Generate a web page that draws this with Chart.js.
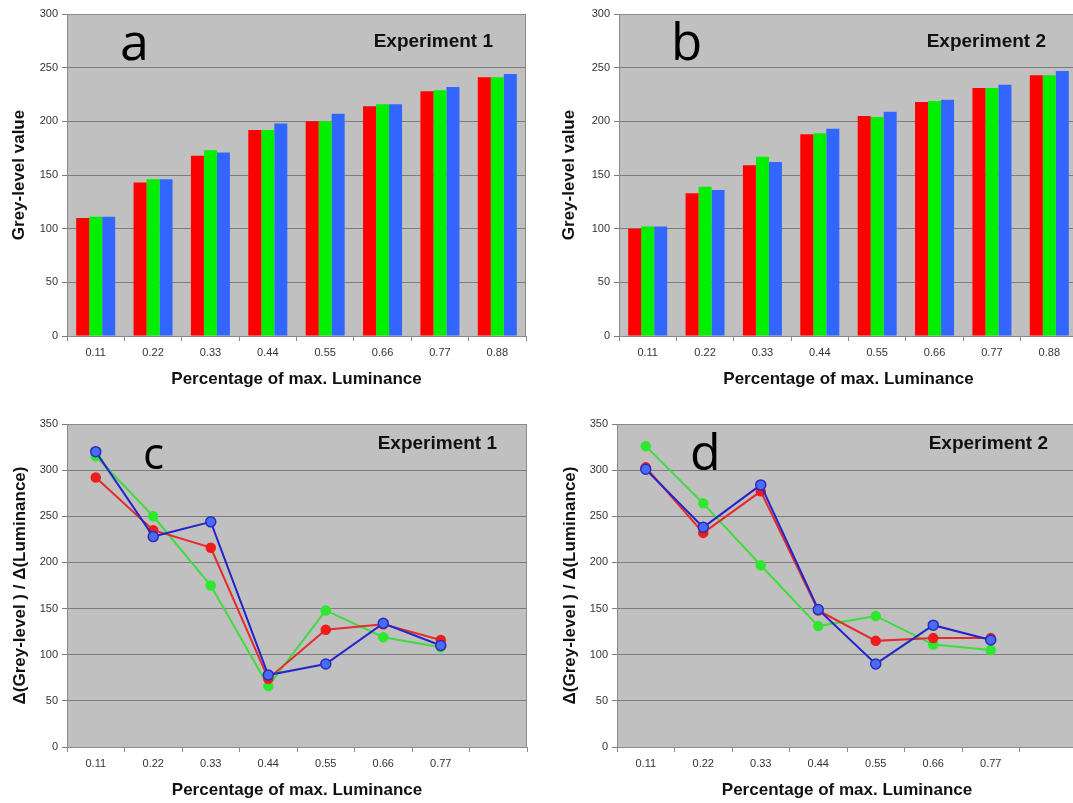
<!DOCTYPE html>
<html>
<head>
<meta charset="utf-8">
<title>Grey-level response</title>
<script src="https://cdn.jsdelivr.net/npm/chart.js@4/dist/chart.umd.min.js"></script>
<style>
  html, body { margin: 0; padding: 0; background: #ffffff; }
  body { width: 1073px; height: 803px; overflow: hidden; position: relative; }
  canvas { position: absolute; }
</style>
</head>
<body>
<canvas id="pa" width="540" height="400" style="left:0px;top:0px"></canvas>
<canvas id="pb" width="540" height="400" style="left:552px;top:0px"></canvas>
<canvas id="pc" width="540" height="403" style="left:0px;top:400px"></canvas>
<canvas id="pd" width="540" height="403" style="left:550px;top:400px"></canvas>
<script>
// Luminance steps (fraction of max. luminance)
const lumLabels = ['0.11', '0.22', '0.33', '0.44', '0.55', '0.66', '0.77', '0.88'];
const slopeLabels = ['0.11', '0.22', '0.33', '0.44', '0.55', '0.66', '0.77', ''];

// Grey-level values per channel, experiment 1
const exp1Red   = [110, 143, 168, 192, 200, 214, 228, 241];
const exp1Green = [111, 146, 173, 192, 200, 216, 229, 241];
const exp1Blue  = [111, 146, 171, 198, 207, 216, 232, 244];

// Grey-level values per channel, experiment 2
const exp2Red   = [100, 133, 159, 188, 205, 218, 231, 243];
const exp2Green = [102, 139, 167, 189, 204, 219, 231, 243];
const exp2Blue  = [102, 136, 162, 193, 209, 220, 234, 247];

// Δ(grey-level) / Δ(luminance), experiment 1
const slope1Red   = [292, 235, 216, 74, 127, 133, 116];
const slope1Green = [315, 250, 175, 66, 148, 119, 108];
const slope1Blue  = [320, 228, 244, 78, 90, 134, 110];

// Δ(grey-level) / Δ(luminance), experiment 2
const slope2Red   = [303, 232, 277, 148, 115, 118, 118];
const slope2Green = [326, 264, 197, 131, 142, 111, 105];
const slope2Blue  = [301, 238, 284, 149, 90, 132, 116];

// Y tick values
const barTicks = [0, 50, 100, 150, 200, 250, 300];
const slopeTicks = [0, 50, 100, 150, 200, 250, 300, 350];

const SANS = "'Liberation Sans', Arial, sans-serif";

// Grey plot background, frame, panel letter and experiment caption
const panelDecor = {
  id: 'panelDecor',
  beforeDraw(chart, args, o) {
    const { ctx, chartArea: a } = chart;
    ctx.save();
    ctx.fillStyle = '#c0c0c0';
    ctx.fillRect(a.left, a.top, a.right - a.left, a.bottom - a.top);
    ctx.restore();
  },
  afterDraw(chart, args, o) {
    const { ctx, chartArea: a } = chart;
    ctx.save();
    ctx.strokeStyle = '#8a8a8a';
    ctx.lineWidth = 1;
    ctx.beginPath();
    ctx.moveTo(a.left, a.top + 0.5);
    ctx.lineTo(a.right - 0.5, a.top + 0.5);
    ctx.lineTo(a.right - 0.5, a.bottom);
    ctx.stroke();
    ctx.fillStyle = '#000000';
    ctx.textBaseline = 'alphabetic';
    ctx.textAlign = 'left';
    ctx.font = o.letterSize + "px 'Open Sans', 'Noto Sans', sans-serif";
    ctx.fillText(o.letter, o.letterX, o.letterY);
    ctx.fillStyle = '#111111';
    ctx.textAlign = 'right';
    ctx.font = 'bold 19px ' + SANS;
    ctx.fillText(o.caption, o.captionX, o.captionY);
    ctx.restore();
  }
};

function yScale(ticks, title, titlePad) {
  return {
    min: ticks[0],
    max: ticks[ticks.length - 1],
    afterBuildTicks: (s) => { s.ticks = ticks.map(v => ({ value: v })); },
    afterFit: (s) => { s.width = 67; },
    grid: { color: '#7c7c7c', lineWidth: 1, tickLength: 5, drawTicks: true },
    border: { display: true, color: '#8a8a8a', width: 1 },
    ticks: { color: '#333333', font: { family: SANS, size: 11 }, padding: 4 },
    title: {
      display: true, text: title, color: '#111111',
      font: { family: SANS, size: 17, weight: 'bold' },
      padding: { top: titlePad, bottom: 0 }
    }
  };
}

function xScale(height, titlePad) {
  return {
    offset: true,
    afterFit: (s) => { s.height = height; },
    grid: { display: true, drawOnChartArea: false, drawTicks: true, tickLength: 5, color: '#8a8a8a', offset: true },
    border: { display: true, color: '#8a8a8a', width: 1 },
    ticks: { color: '#333333', font: { family: SANS, size: 11 }, padding: 5, maxRotation: 0, autoSkip: false },
    title: {
      display: true, text: 'Percentage of max. Luminance', color: '#111111',
      font: { family: SANS, size: 17, weight: 'bold' },
      padding: { top: 0, bottom: titlePad }
    }
  };
}

function barPanel(id, red, green, blue, decor, yPad) {
  const ds = (label, data, color) => ({
    label, data, backgroundColor: color, borderWidth: 0,
    categoryPercentage: 0.68, barPercentage: 1.0
  });
  new Chart(document.getElementById(id), {
    type: 'bar',
    data: {
      labels: lumLabels,
      datasets: [ds('Red', red, '#ff0000'), ds('Green', green, '#00f000'), ds('Blue', blue, '#3366ff')]
    },
    options: {
      responsive: false, animation: false, devicePixelRatio: 1,
      layout: { padding: { left: 0, right: 14, top: 14, bottom: 0 } },
      plugins: { legend: { display: false }, tooltip: { enabled: false }, panelDecor: decor },
      scales: { x: xScale(64, 10), y: yScale(barTicks, 'Grey-level value', yPad) }
    },
    plugins: [panelDecor]
  });
}

function slopePanel(id, red, green, blue, decor, yPad) {
  const ds = (label, data, line, fill, edge, radius, order) => ({
    label, data, borderColor: line, backgroundColor: fill, borderWidth: 2,
    pointBackgroundColor: fill, pointBorderColor: edge, pointBorderWidth: 1.5,
    pointRadius: radius, tension: 0, fill: false, order
  });
  new Chart(document.getElementById(id), {
    type: 'line',
    data: {
      labels: slopeLabels,
      datasets: [
        ds('Red', red, '#e42a2a', '#ee1c1c', '#ee1c1c', 4.5, 2),
        ds('Green', green, '#3fdc3f', '#2ee82e', '#2ee82e', 4.5, 3),
        ds('Blue', blue, '#2424c8', '#4a6cf0', '#2a2ac0', 5, 1)
      ]
    },
    options: {
      responsive: false, animation: false, devicePixelRatio: 1,
      layout: { padding: { left: 0, right: 13, top: 24, bottom: 0 } },
      plugins: { legend: { display: false }, tooltip: { enabled: false }, panelDecor: decor },
      scales: { x: xScale(56, 2), y: yScale(slopeTicks, 'Δ(Grey-level ) / Δ(Luminance)', yPad) }
    },
    plugins: [panelDecor]
  });
}

barPanel('pa', exp1Red, exp1Green, exp1Blue,
  { letter: 'a', letterSize: 52, letterX: 120, letterY: 60, caption: 'Experiment 1', captionX: 493, captionY: 47 }, 9);
barPanel('pb', exp2Red, exp2Green, exp2Blue,
  { letter: 'b', letterSize: 51, letterX: 119, letterY: 60, caption: 'Experiment 2', captionX: 494, captionY: 47 }, 7);
slopePanel('pc', slope1Red, slope1Green, slope1Blue,
  { letter: 'c', letterSize: 44, letterX: 143, letterY: 69, caption: 'Experiment 1', captionX: 497, captionY: 49 }, 10);
slopePanel('pd', slope2Red, slope2Green, slope2Blue,
  { letter: 'd', letterSize: 50, letterX: 140, letterY: 70, caption: 'Experiment 2', captionX: 498, captionY: 49 }, 10);
</script>
</body>
</html>
